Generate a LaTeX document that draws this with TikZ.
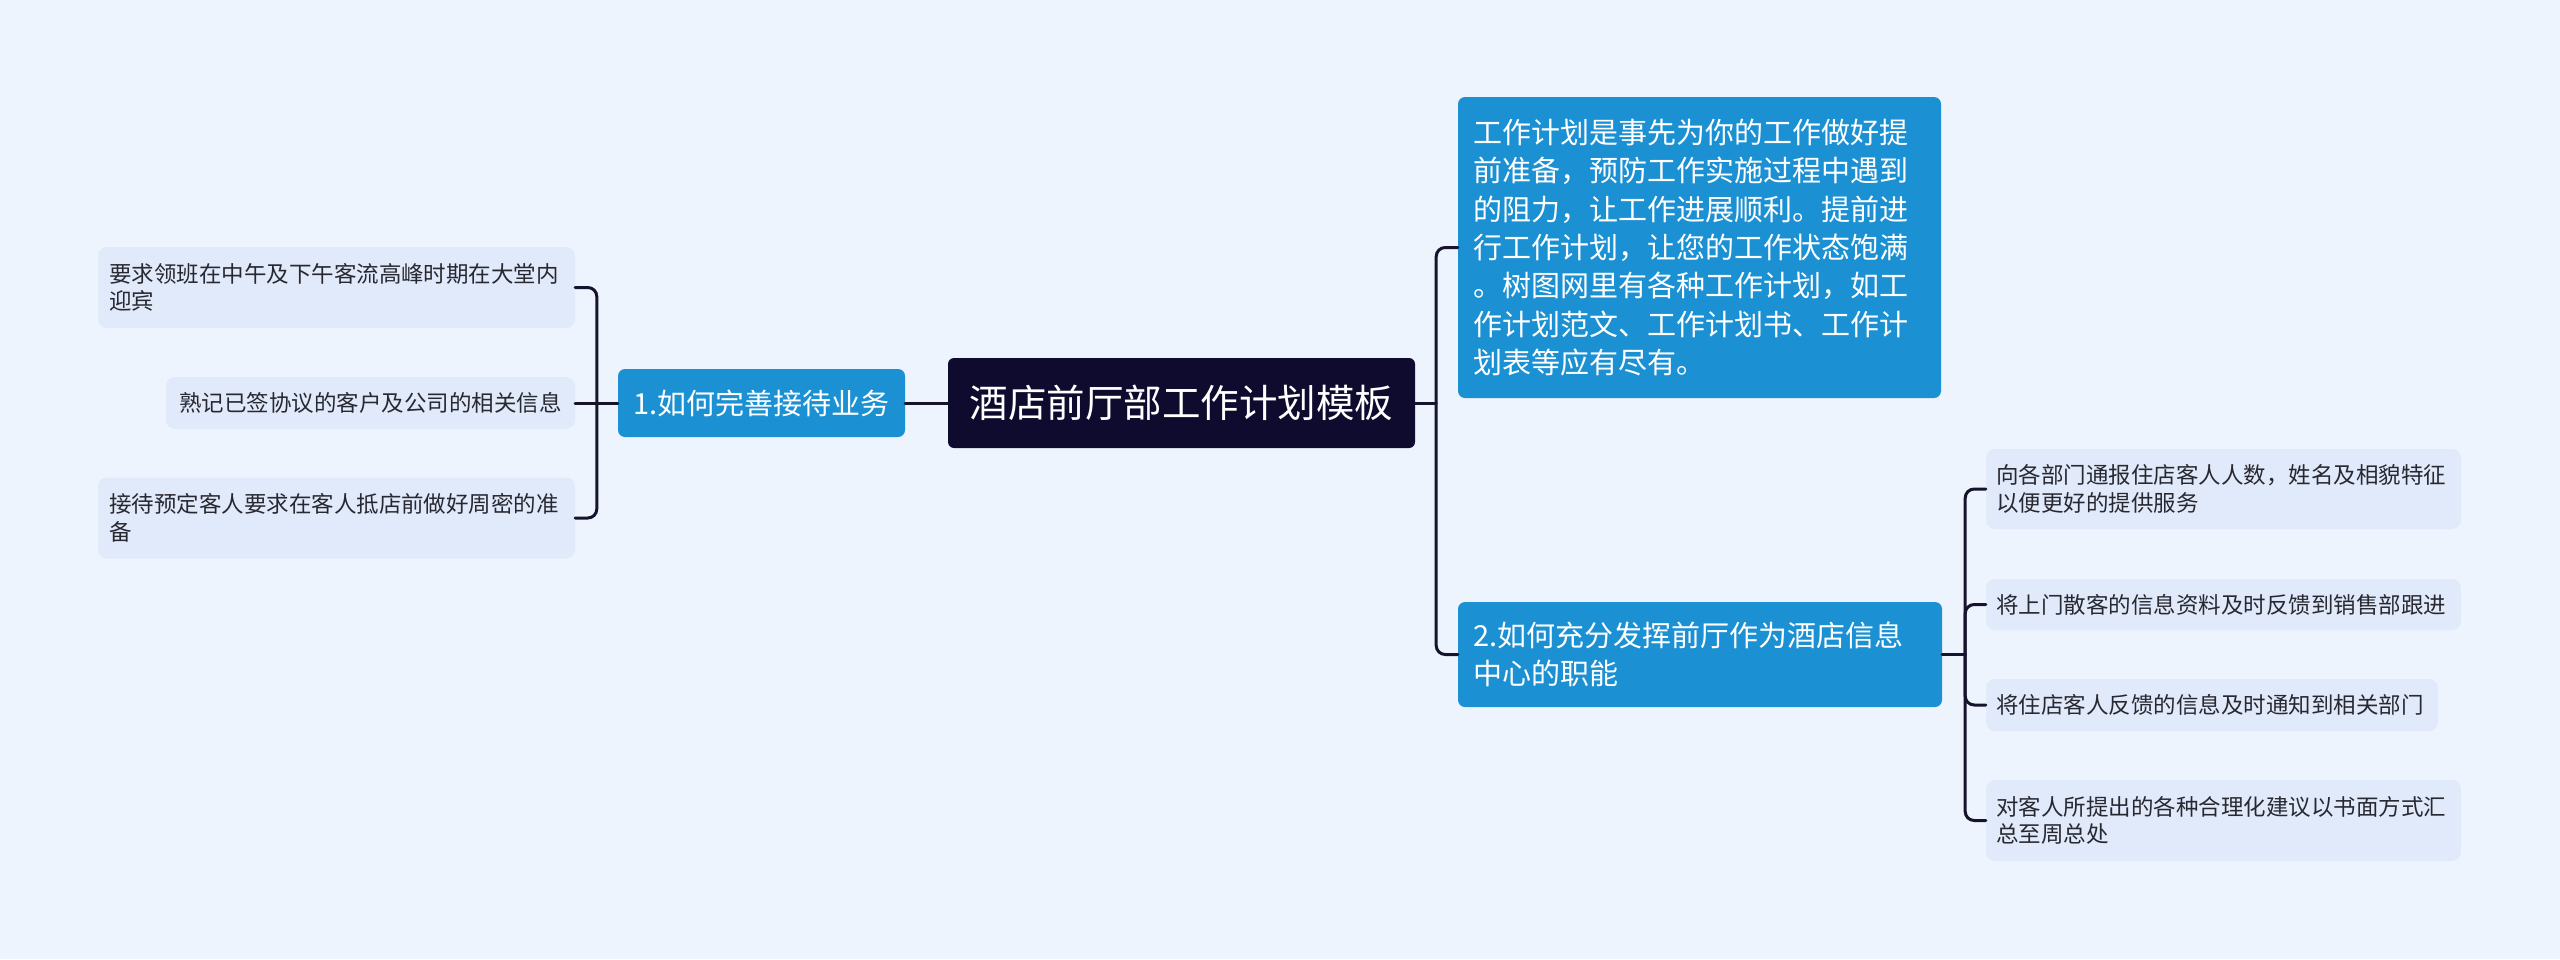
\documentclass[tikz,border=0pt]{standalone}
\usepackage{fontspec}
\setmainfont{Noto Sans CJK SC}
\definecolor{bg}{RGB}{238,244,254}
\definecolor{rootfill}{RGB}{14,11,46}
\definecolor{branchfill}{RGB}{27,145,211}
\definecolor{leaffill}{RGB}{225,234,251}
\definecolor{leaftext}{RGB}{40,40,48}
\definecolor{linecol}{RGB}{22,20,44}
\tikzset{
  rootbox/.style={fill=rootfill, text=white, rounded corners=6pt, inner sep=0pt,
    font=\fontsize{38.5}{46}\selectfont, align=center},
  branchbox/.style={fill=branchfill, text=white, rounded corners=7pt, inner sep=0pt,
    font=\fontsize{29}{38.3}\selectfont, align=left},
  leafbox/.style={fill=leaffill, text=leaftext, rounded corners=9pt, inner sep=0pt,
    font=\fontsize{22.5}{27.5}\selectfont, align=left},
  conn/.style={draw=linecol, line width=3pt, rounded corners=9pt, line cap=round}
}
\begin{document}
\begin{tikzpicture}[x=1pt,y=-1pt]
\fill[bg] (0,0) rectangle (2560,959);
\useasboundingbox (0,0) rectangle (2560,959);

% root
\node[rootbox, minimum width=467pt, minimum height=90pt] (root) at (1181.5,403) {酒店前厅部工作计划模板};

% branch 1
\node[branchbox, minimum width=287pt, minimum height=68pt, align=center] (b1) at (761.5,403) {1.如何完善接待业务};

% description box
\node[branchbox, minimum width=483pt, minimum height=301pt, text width=453pt] (desc) at (1699.5,247.5)
{工作计划是事先为你的工作做好提\\前准备，预防工作实施过程中遇到\\的阻力，让工作进展顺利。提前进\\行工作计划，让您的工作状态饱满\\。树图网里有各种工作计划，如工\\作计划范文、工作计划书、工作计\\划表等应有尽有。};

% branch 2
\node[branchbox, minimum width=484pt, minimum height=105pt, text width=454pt] (b2) at (1700,654.5)
{2.如何充分发挥前厅作为酒店信息\\中心的职能};

% left leaves
\node[leafbox, minimum width=477pt, minimum height=81pt, text width=455pt] (l1) at (336.5,287.5)
{要求领班在中午及下午客流高峰时期在大堂内\\迎宾};
\node[leafbox, minimum width=409pt, minimum height=52pt, align=center] (l2) at (370.5,403)
{熟记已签协议的客户及公司的相关信息};
\node[leafbox, minimum width=477pt, minimum height=81pt, text width=455pt] (l3) at (336.5,518)
{接待预定客人要求在客人抵店前做好周密的准\\备};

% right leaves
\node[leafbox, minimum width=475pt, minimum height=80pt, text width=455pt] (r1) at (2223.5,489)
{向各部门通报住店客人人数，姓名及相貌特征\\以便更好的提供服务};
\node[leafbox, minimum width=475pt, minimum height=51pt, text width=455pt] (r2) at (2223.5,604.5)
{将上门散客的信息资料及时反馈到销售部跟进};
\node[leafbox, minimum width=452pt, minimum height=52pt, text width=432pt] (r3) at (2212,705)
{将住店客人反馈的信息及时通知到相关部门};
\node[leafbox, minimum width=475pt, minimum height=81pt, text width=455pt] (r4) at (2223.5,820.5)
{对客人所提出的各种合理化建议以书面方式汇\\总至周总处};

% junction points
\path (b1.west) ++(-21,0) coordinate (sl);
\path (root.east) ++(21,0) coordinate (sr);
\path (b2.east) ++(23,0) coordinate (sb);

% connectors
\draw[conn] (root.west) -- (b1.east);
\draw[conn] (b1.west) -- (l2.east);
\draw[conn] (l1.east) -| (sl);
\draw[conn] (l3.east) -| (sl);

\draw[conn] (root.east) -- (sr);
\draw[conn] (desc.west) -| (sr);
\draw[conn] (b2.west) -| (sr);

\draw[conn] (b2.east) -- (sb);
\draw[conn] (r1.west) -| (sb);
\draw[conn] (r2.west) -| (sb);
\draw[conn] (r3.west) -| (sb);
\draw[conn] (r4.west) -| (sb);
\end{tikzpicture}
\end{document}
